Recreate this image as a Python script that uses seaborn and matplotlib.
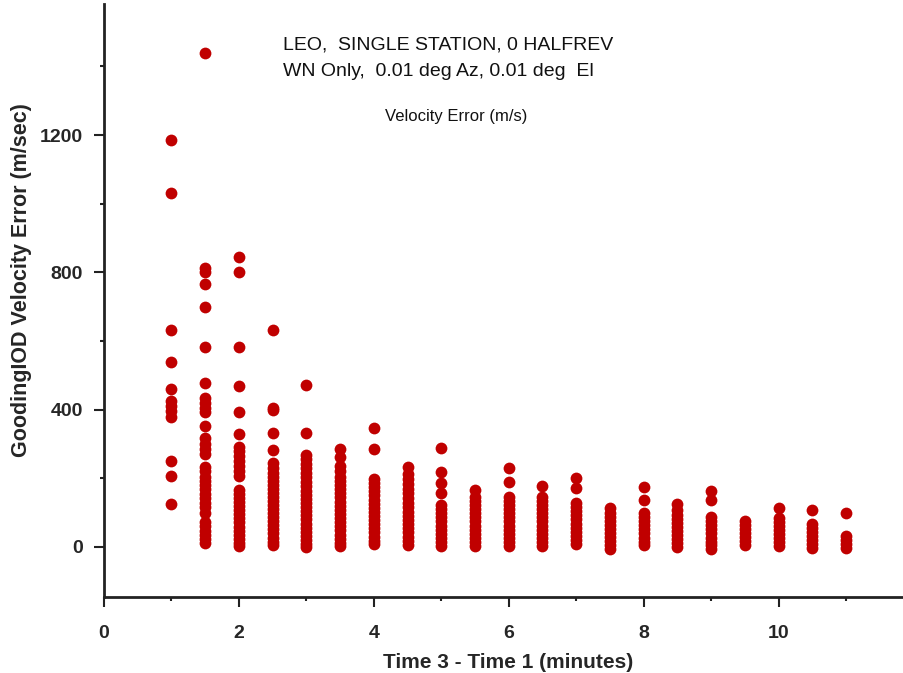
import numpy as np
import pandas as pd
import matplotlib
matplotlib.use("Agg")
import matplotlib.pyplot as plt
import seaborn as sns
from matplotlib.ticker import MultipleLocator

# time difference (minutes) for each column of points
times = [1.0, 1.5, 2.0, 2.5, 3.0, 3.5, 4.0, 4.5, 5.0, 5.5, 6.0,
         6.5, 7.0, 7.5, 8.0, 8.5, 9.0, 9.5, 10.0, 10.5, 11.0]

# velocity errors (m/sec)
err_1_0 = [1185, 1032, 632, 540, 460, 425, 410, 395, 378, 250, 206, 124]
err_1_5 = [1440, 812, 800, 766, 700, 583, 477, 435, 420, 405, 392, 352, 318, 300,
           285, 270, 233, 220, 205, 192, 180, 168, 155, 142, 128, 115, 100,
           73, 60, 47, 35, 22, 10]
err_2_0 = [845, 800, 583, 470, 392, 330, 292, 280, 265, 250, 235, 220, 206,
           166, 155, 143, 131, 119, 107, 95, 83, 71, 59, 47, 35, 23, 11, 2]
err_2_5 = [632, 405, 398, 332, 283, 245, 230, 216, 204, 192, 180, 168, 156, 146,
           135, 123, 111, 99, 87, 75, 63, 51, 39, 27, 15, 4]
err_3_0 = [472, 332, 268, 255, 242, 229, 216, 203, 190, 177, 164, 152, 140, 128,
           116, 104, 92, 80, 68, 56, 44, 32, 20, 8, 0]
err_3_5 = [285, 262, 236, 220, 205, 192, 180, 168, 156, 144, 132, 120, 108,
           96, 84, 72, 60, 48, 36, 24, 12, 2]
err_4_0 = [345, 285, 198, 186, 174, 162, 150, 138, 126, 114, 102, 90, 78,
           66, 54, 42, 30, 18, 8]
err_4_5 = [233, 212, 198, 184, 170, 156, 142, 128, 115, 102, 90, 78, 66,
           54, 42, 30, 18, 6]
err_5_0 = [288, 218, 186, 157, 122, 110, 98, 86, 74, 62, 50, 38, 26, 14, 3]
err_5_5 = [166, 146, 134, 122, 110, 98, 86, 74, 62, 50, 38, 26, 14, 3]
err_6_0 = [230, 190, 146, 134, 122, 110, 98, 86, 74, 62, 50, 38, 26, 14, 3]
err_6_5 = [178, 146, 134, 122, 110, 98, 86, 74, 62, 50, 38, 26, 14, 3]
err_7_0 = [202, 172, 128, 116, 104, 92, 80, 68, 56, 44, 32, 20, 8]
err_7_5 = [112, 100, 88, 76, 64, 52, 40, 28, 16, 4, -5]
err_8_0 = [175, 137, 99, 87, 75, 63, 51, 39, 27, 15, 4]
err_8_5 = [126, 106, 94, 82, 70, 58, 46, 34, 22, 10, 0]
err_9_0 = [162, 137, 87, 75, 63, 51, 39, 27, 15, 4, -5]
err_9_5 = [76, 64, 52, 40, 28, 16, 4]
err_10_0 = [113, 85, 73, 61, 49, 37, 25, 13, 2]
err_10_5 = [106, 68, 56, 44, 32, 20, 8, -4]
err_11_0 = [100, 32, 20, 8, -4]

columns = [err_1_0, err_1_5, err_2_0, err_2_5, err_3_0, err_3_5, err_4_0,
           err_4_5, err_5_0, err_5_5, err_6_0, err_6_5, err_7_0, err_7_5,
           err_8_0, err_8_5, err_9_0, err_9_5, err_10_0, err_10_5, err_11_0]

df = pd.DataFrame({
    "time": np.concatenate([[t] * len(c) for t, c in zip(times, columns)]),
    "error": np.concatenate(columns),
})

sns.set_style("ticks")
plt.rcParams['font.family'] = ['Liberation Sans', 'DejaVu Sans']

fig = plt.figure(figsize=(9.04, 6.73), dpi=100)
ax = fig.add_axes([0.115, 0.113, 0.885, 0.881])

sns.scatterplot(data=df, x="time", y="error", color="#c00000", s=72,
                linewidth=0, marker="o", ax=ax)

ax.set_xlim(0, 11.86)
ax.set_ylim(-146, 1582)
ax.xaxis.set_major_locator(MultipleLocator(2))
ax.xaxis.set_minor_locator(MultipleLocator(1))
ax.yaxis.set_major_locator(MultipleLocator(400))
ax.yaxis.set_minor_locator(MultipleLocator(200))
ax.tick_params(which="major", length=7, width=1.5, color="#222222",
               labelsize=14, pad=8)
ax.tick_params(which="minor", length=3, width=1.5, color="#222222")
for lab in ax.get_xticklabels() + ax.get_yticklabels():
    lab.set_fontweight("bold")
ax.xaxis.set_tick_params(pad=13)

sns.despine(ax=ax)
for sp in ["left", "bottom"]:
    ax.spines[sp].set_linewidth(2)
    ax.spines[sp].set_color("#222222")

ax.set_xlabel("Time 3 - Time 1 (minutes)", fontsize=15, fontweight="bold")
ax.set_ylabel("GoodingIOD Velocity Error (m/sec)", fontsize=15.5, fontweight="bold")
ax.xaxis.label.set_va("center")
ax.yaxis.label.set_va("center")
ax.xaxis.set_label_coords(0.505, -0.11)
ax.yaxis.set_label_coords(-0.1025, 0.535)

fig.text(283 / 904, 1 - 45 / 673, "LEO,  SINGLE STATION, 0 HALFREV",
         fontsize=14, ha="left", va="center", color="#111111")
fig.text(283 / 904, 1 - 72 / 673, "WN Only,  0.01 deg Az, 0.01 deg  El",
         fontsize=14, ha="left", va="center", color="#111111")
fig.text(456 / 904, 1 - 116 / 673, "Velocity Error (m/s)",
         fontsize=12, ha="center", va="center", color="#111111")

fig.savefig("out.png", dpi=100)
